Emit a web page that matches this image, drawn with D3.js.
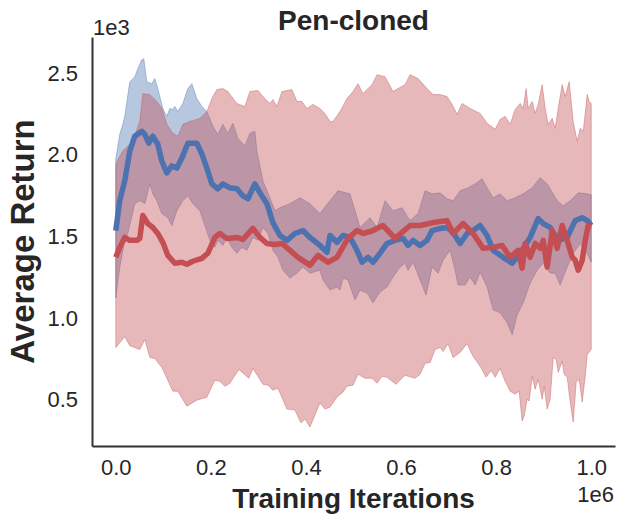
<!DOCTYPE html>
<html>
<head>
<meta charset="utf-8">
<script src="https://cdn.jsdelivr.net/npm/d3@7"></script>
<style>
  body { margin: 0; background: #fff; }
  text { font-family: "Liberation Sans", Arial, sans-serif; fill: #262626; }
</style>
</head>
<body>
<svg id="chart" width="623" height="522"></svg>
<script>
// x values are in thousands of iterations, returns are raw
const blueMeanX = [0, 8.4, 18.9, 29.5, 40.0, 54.7, 61.1, 69.5, 77.9, 88.4, 96.8, 107.4, 117.9, 128.4, 139.0, 151.6, 170.5, 181.1, 191.6, 202.1, 214.7, 225.3, 240.0, 254.7, 267.4, 277.9, 292.6, 303.2, 317.9, 330.5, 345.2, 360.0, 376.8, 393.7, 408.4, 429.4, 444.2, 450.5, 465.2, 477.8, 492.6, 507.3, 517.9, 530.5, 541.0, 555.8, 570.5, 587.3, 604.2, 614.7, 625.3, 640.0, 654.7, 665.3, 682.1, 696.8, 709.5, 724.2, 738.9, 751.6, 766.3, 781.0, 793.7, 814.7, 833.6, 850.5, 871.6, 888.4, 898.9, 913.7, 930.5, 949.5, 966.3, 981.0, 991.6, 1000];
const blueMean = [1536, 1719, 1840, 2023, 2114, 2144, 2126, 2071, 2114, 2065, 1962, 1889, 1932, 1919, 1980, 2071, 2071, 2005, 1919, 1822, 1792, 1822, 1798, 1792, 1749, 1731, 1822, 1767, 1701, 1585, 1506, 1476, 1518, 1536, 1494, 1445, 1403, 1506, 1464, 1506, 1494, 1415, 1342, 1372, 1342, 1397, 1457, 1476, 1488, 1445, 1476, 1445, 1476, 1536, 1549, 1555, 1524, 1457, 1518, 1536, 1567, 1506, 1415, 1372, 1336, 1397, 1494, 1609, 1579, 1555, 1476, 1494, 1597, 1615, 1597, 1567];

const blueUpX = [0, 8.4, 14.7, 18.9, 29.5, 40.0, 46.3, 54.7, 58.9, 65.3, 75.8, 82.1, 88.4, 98.9, 107.4, 113.7, 120.0, 124.2, 130.5, 141.1, 151.6, 160.0, 170.5, 181.1, 191.6, 204.2, 214.7, 225.3, 235.8, 246.3, 256.8, 271.6, 282.1, 292.6, 296.8, 309.5, 324.2, 334.7, 345.2, 366.3, 387.4, 408.4, 429.4, 450.5, 467.4, 492.6, 513.7, 534.7, 549.5, 566.3, 583.2, 602.1, 618.9, 635.8, 650.5, 665.3, 682.1, 696.8, 709.5, 724.2, 741.1, 755.8, 770.5, 781.0, 793.7, 808.4, 823.2, 840.0, 856.8, 875.8, 892.6, 907.4, 928.4, 941.1, 955.8, 972.6, 991.6, 1000];
const blueUp = [1974, 2126, 2187, 2236, 2448, 2479, 2527, 2582, 2588, 2448, 2436, 2467, 2406, 2284, 2236, 2284, 2278, 2296, 2266, 2315, 2406, 2436, 2345, 2296, 2266, 2175, 2126, 2187, 2132, 2193, 2102, 2053, 2132, 2144, 2023, 1840, 1737, 1658, 1676, 1701, 1737, 1701, 1640, 1719, 1780, 1761, 1555, 1615, 1555, 1719, 1658, 1676, 1597, 1640, 1780, 1761, 1767, 1731, 1719, 1780, 1798, 1822, 1853, 1798, 1737, 1761, 1719, 1737, 1761, 1798, 1859, 1822, 1719, 1688, 1719, 1767, 1761, 1755];

const blueLoX = [0, 8.4, 18.9, 25.3, 40.0, 50.5, 61.1, 71.6, 77.9, 86.3, 96.8, 109.5, 117.9, 128.4, 141.1, 151.6, 162.1, 176.8, 187.4, 197.9, 208.4, 214.7, 225.3, 233.7, 244.2, 254.7, 265.3, 275.8, 288.4, 298.9, 309.5, 320.0, 330.5, 341.1, 351.6, 366.3, 381.1, 393.7, 408.4, 429.4, 435.8, 450.5, 465.2, 471.6, 477.9, 488.4, 503.2, 513.7, 528.4, 541.0, 555.8, 570.5, 583.2, 597.9, 608.4, 614.7, 625.3, 640.0, 652.6, 665.3, 677.9, 688.4, 703.2, 713.7, 720.0, 734.7, 745.3, 755.8, 766.3, 781.0, 793.7, 808.4, 823.2, 833.7, 844.2, 856.8, 871.6, 886.3, 898.9, 913.7, 924.2, 934.7, 949.5, 962.1, 976.8, 991.6, 1000];
const blueLo = [1123, 1312, 1476, 1518, 1701, 1719, 1701, 1822, 1761, 1719, 1640, 1615, 1567, 1658, 1719, 1749, 1701, 1658, 1567, 1476, 1433, 1476, 1445, 1494, 1433, 1397, 1433, 1415, 1494, 1476, 1555, 1518, 1415, 1372, 1293, 1245, 1275, 1312, 1275, 1293, 1233, 1172, 1190, 1172, 1245, 1233, 1111, 1172, 1153, 1093, 1160, 1190, 1251, 1312, 1336, 1293, 1342, 1233, 1141, 1312, 1275, 1354, 1415, 1293, 1202, 1202, 1251, 1202, 1281, 1190, 1050, 1032, 971, 898, 1020, 1093, 1214, 1293, 1336, 1275, 1275, 1202, 1312, 1397, 1457, 1397, 1342];

const redMeanX = [0, 8.4, 18.9, 29.5, 44.2, 50.5, 56.8, 67.4, 77.9, 88.4, 98.9, 109.5, 124.2, 139.0, 149.5, 162.1, 181.1, 193.7, 208.4, 218.9, 233.7, 254.7, 267.4, 288.4, 303.2, 317.9, 334.7, 349.5, 366.3, 383.2, 408.4, 425.3, 446.3, 465.2, 488.4, 507.3, 520.0, 541.0, 562.1, 587.3, 618.9, 640.0, 667.4, 696.8, 709.5, 730.5, 751.6, 772.6, 793.7, 812.6, 829.5, 846.3, 854.7, 861.1, 871.6, 882.1, 892.6, 898.9, 907.4, 917.9, 928.4, 938.9, 949.5, 960.0, 966.3, 972.6, 981.0, 987.4, 993.7, 1000];
const redMean = [1372, 1433, 1494, 1476, 1476, 1488, 1628, 1579, 1555, 1518, 1464, 1384, 1336, 1342, 1330, 1348, 1366, 1397, 1494, 1518, 1488, 1494, 1482, 1549, 1494, 1457, 1451, 1457, 1415, 1372, 1324, 1384, 1342, 1372, 1488, 1536, 1518, 1536, 1567, 1488, 1567, 1567, 1585, 1597, 1518, 1579, 1518, 1427, 1433, 1445, 1372, 1415, 1305, 1457, 1372, 1457, 1427, 1476, 1312, 1536, 1427, 1567, 1476, 1372, 1354, 1293, 1354, 1476, 1567, 1567];

const redUpX = [0, 14.7, 35.8, 50.5, 56.8, 71.6, 86.3, 96.8, 107.4, 120.0, 130.5, 141.1, 155.8, 176.8, 191.6, 202.1, 212.6, 225.3, 235.8, 254.7, 271.6, 282.1, 298.9, 309.5, 324.2, 330.5, 338.9, 349.5, 370.5, 381.1, 391.6, 402.1, 414.7, 429.4, 440.0, 450.5, 456.8, 471.6, 486.3, 498.9, 509.5, 520.0, 528.4, 538.9, 549.5, 566.3, 583.2, 593.7, 608.4, 618.9, 635.8, 654.7, 667.4, 682.1, 696.8, 707.4, 717.9, 728.4, 745.3, 766.3, 781.0, 797.9, 808.4, 818.9, 829.5, 840.0, 850.5, 856.8, 863.2, 867.4, 875.8, 882.1, 888.4, 896.8, 903.2, 909.5, 917.9, 924.2, 930.5, 938.9, 945.3, 953.7, 962.1, 970.5, 976.8, 983.2, 991.6, 995.8, 1000];
const redUp = [1944, 2023, 2084, 2205, 2375, 2369, 2327, 2284, 2187, 2132, 2114, 2187, 2205, 2223, 2266, 2345, 2400, 2406, 2388, 2315, 2296, 2388, 2394, 2357, 2315, 2339, 2296, 2388, 2400, 2327, 2327, 2284, 2309, 2284, 2254, 2205, 2205, 2266, 2345, 2388, 2436, 2375, 2400, 2430, 2491, 2479, 2388, 2406, 2430, 2491, 2467, 2406, 2369, 2369, 2357, 2309, 2248, 2315, 2284, 2254, 2193, 2157, 2217, 2236, 2187, 2278, 2315, 2284, 2406, 2284, 2327, 2254, 2309, 2430, 2284, 2187, 2223, 2163, 2284, 2430, 2357, 2448, 2205, 2084, 2163, 2144, 2369, 2327, 2315];

const redLoX = [0, 18.9, 29.5, 50.5, 61.1, 71.6, 82.1, 96.8, 120.0, 130.5, 149.5, 170.5, 191.6, 208.4, 218.9, 229.5, 240.0, 258.9, 280.0, 288.4, 309.5, 320.0, 330.5, 341.1, 360.0, 376.8, 389.5, 397.9, 408.4, 429.4, 440.0, 450.5, 465.2, 477.9, 486.3, 498.9, 509.5, 524.2, 538.9, 549.5, 560.0, 570.5, 589.5, 608.4, 629.5, 640.0, 650.5, 661.1, 671.6, 682.1, 688.4, 698.9, 709.5, 724.2, 738.9, 751.6, 766.3, 778.9, 789.5, 797.9, 808.4, 818.9, 829.5, 840.0, 848.4, 854.7, 858.9, 865.3, 869.5, 875.8, 882.1, 888.4, 896.8, 901.1, 907.4, 913.7, 920.0, 926.3, 930.5, 938.9, 943.2, 949.5, 955.8, 962.1, 968.4, 974.7, 981.1, 987.4, 991.6, 1000];
const redLo = [819, 886, 831, 807, 868, 758, 752, 698, 552, 552, 460, 497, 515, 619, 612, 582, 600, 685, 631, 691, 594, 588, 558, 570, 442, 436, 357, 381, 333, 479, 442, 454, 515, 546, 582, 588, 655, 631, 631, 600, 643, 637, 594, 649, 631, 655, 722, 728, 807, 819, 795, 843, 758, 789, 843, 764, 704, 637, 679, 637, 691, 612, 552, 533, 552, 369, 400, 503, 491, 643, 564, 625, 503, 582, 442, 503, 758, 746, 667, 734, 655, 637, 485, 363, 606, 625, 485, 643, 777, 807];

const xTicks = [0, 0.2e6, 0.4e6, 0.6e6, 0.8e6, 1.0e6];
const yTicks = [500, 1000, 1500, 2000, 2500];

const blue = "#4c72b0";
const red = "#c44e52";

const svg = d3.select("#chart");
const plotLeft = 92, plotRight = 615, plotTop = 37, plotBottom = 446;

const x = d3.scaleLinear().domain([-0.05e6, 1.05e6]).range([plotLeft, plotRight]);
const y = d3.scaleLinear().domain([216, 2722]).range([plotBottom, plotTop]);

function pts(xs, ys) {
  return d3.zip(xs, ys).map(p => [p[0] * 1000, p[1]]);
}

const line = d3.line().x(d => x(d[0])).y(d => y(d[1]));

function band(upX, up, loX, lo, color) {
  const poly = pts(upX, up).concat(pts(loX, lo).reverse());
  svg.append("path")
    .attr("d", line(poly) + "Z")
    .attr("fill", color)
    .attr("fill-opacity", 0.4)
    .attr("stroke", color)
    .attr("stroke-opacity", 0.4)
    .attr("stroke-width", 1);
}

band(blueUpX, blueUp, blueLoX, blueLo, blue);
band(redUpX, redUp, redLoX, redLo, red);

function meanLine(xs, ys, color) {
  svg.append("path")
    .attr("d", line(pts(xs, ys)))
    .attr("fill", "none")
    .attr("stroke", color)
    .attr("stroke-width", 5.5)
    .attr("stroke-linejoin", "round")
    .attr("stroke-linecap", "butt");
}

meanLine(blueMeanX, blueMean, blue);
meanLine(redMeanX, redMean, red);

// axes (only left and bottom spines, no tick marks)
const xAxis = svg.append("g")
  .attr("transform", "translate(0," + plotBottom + ")")
  .call(d3.axisBottom(x).tickValues(xTicks).tickSize(0).tickSizeOuter(0).tickPadding(13)
    .tickFormat(d => (d / 1e6).toFixed(1)));

const yAxis = svg.append("g")
  .attr("transform", "translate(" + plotLeft + ",0)")
  .call(d3.axisLeft(y).tickValues(yTicks).tickSize(0).tickSizeOuter(0).tickPadding(14)
    .tickFormat(d => (d / 1e3).toFixed(1)));

[xAxis, yAxis].forEach(g => {
  g.attr("font-family", null).attr("font-size", null);
  g.select(".domain").attr("stroke", "#333").attr("stroke-width", 2);
  g.selectAll("text").style("font-size", "22px").attr("fill", "#262626");
});

// offset labels
svg.append("text").attr("x", 93).attr("y", 35)
  .style("font-size", "22px").text("1e3");
svg.append("text").attr("x", 614).attr("y", 502).attr("text-anchor", "end")
  .style("font-size", "22px").text("1e6");

// title and axis labels
svg.append("text").attr("x", (plotLeft + plotRight) / 2).attr("y", 30)
  .attr("text-anchor", "middle").style("font-size", "28px").style("font-weight", "bold")
  .text("Pen-cloned");

svg.append("text").attr("x", (plotLeft + plotRight) / 2).attr("y", 508)
  .attr("text-anchor", "middle").style("font-size", "28px").style("font-weight", "bold")
  .text("Training Iterations");

svg.append("text")
  .attr("transform", "translate(34," + (plotTop + plotBottom) / 2 + ") rotate(-90)")
  .attr("text-anchor", "middle").style("font-size", "33px").style("font-weight", "bold")
  .text("Average Return");
</script>
</body>
</html>
